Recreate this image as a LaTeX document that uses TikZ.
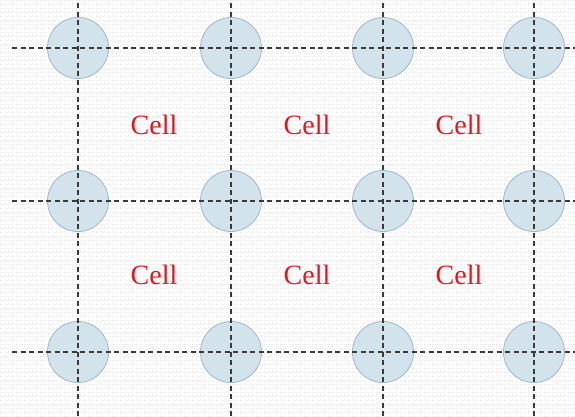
\documentclass[tikz,border=0pt]{standalone}
\usepackage{fontspec}
\setmainfont{Liberation Serif}
\definecolor{nodefill}{HTML}{D2E3EC}
\definecolor{nodeborder}{HTML}{9DB9CC}
\definecolor{gridln}{HTML}{3A3A3A}
\definecolor{bggrid}{HTML}{ECECEC}
\definecolor{celltext}{HTML}{E8141C}
\begin{document}
\begin{tikzpicture}[x=1pt,y=-1pt,
  site/.style={circle,draw=nodeborder,fill=nodefill,line width=0.8pt,minimum size=61pt,inner sep=0pt},
  gline/.style={draw=gridln,line width=1.4pt,dash pattern=on 5pt off 3.5pt},
  celllabel/.style={text=celltext,font=\fontsize{28}{30}\selectfont,inner sep=0pt}]
\useasboundingbox (0,0) rectangle (575,416);
\fill[white] (0,0) rectangle (575,416);
\draw[bggrid,line width=0.4pt,dotted,step=4pt] (0,0) grid (575,416);
% sites
\foreach \c/\x in {1/78,2/231,3/383,4/534}{
  \foreach \r/\y in {1/48,2/201,3/352}{
    \node[site] (s\r\c) at (\x,\y) {};
  }
}
% helper coordinates for the line ends
\foreach \c/\x in {1/78,2/231,3/383,4/534}{
  \coordinate (t\c) at (\x,3);
  \coordinate (b\c) at (\x,416);
}
\foreach \r/\y in {1/48,2/201,3/352}{
  \coordinate (l\r) at (12,\y);
  \coordinate (e\r) at (575,\y);
}
\foreach \c in {1,2,3,4}{\draw[gline] (t\c) -- (b\c);}
\foreach \r in {1,2,3}{\draw[gline] (l\r) -- (e\r);}
% cell labels
\node[celllabel] (c1) at (154,125) {Cell};
\node[celllabel] (c2) at (307,125) {Cell};
\node[celllabel] (c3) at (459,125) {Cell};
\node[celllabel] (c4) at (154,275) {Cell};
\node[celllabel] (c5) at (307,275) {Cell};
\node[celllabel] (c6) at (459,275) {Cell};
\end{tikzpicture}
\end{document}
